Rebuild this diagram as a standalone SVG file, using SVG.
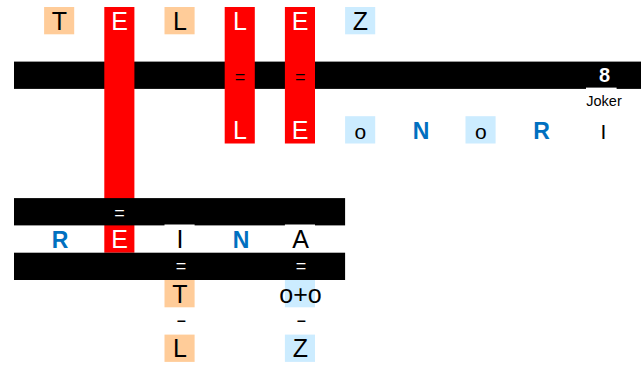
<svg xmlns="http://www.w3.org/2000/svg" width="641" height="366" viewBox="0 0 641 366">
<style>
text{font-family:"Liberation Sans",Arial,sans-serif;text-anchor:middle}
.l{font-size:25px;fill:#000}
.w{font-size:25px;fill:#fff}
.s{font-size:21px;fill:#000}
.b{font-size:23px;font-weight:bold;fill:#0070C0}
.eq{font-size:18px;fill:#000}
.eqw{font-size:18px;fill:#fff}
.dash{font-size:18px;fill:#000}
.peach{fill:#FFCC99}
.sky{fill:#CCECFF}
.red{fill:#FF0000}
.bar{fill:#000}
</style>
<rect width="641" height="366" fill="#fff"/>
<g id="bars-top">
<rect class="bar" x="14" y="61.6" width="627" height="27.3"/>
<rect fill="#fff" x="586" y="87.6" width="30.6" height="27"/>
</g>
<g id="red-columns">
<rect class="red" x="104.3" y="7" width="30.1" height="245.7"/>
<rect class="red" x="224.7" y="7" width="30.1" height="136.5"/>
<rect class="red" x="284.9" y="7" width="30.1" height="136.5"/>
</g>
<g id="bars-lower">
<rect class="bar" x="14" y="198.1" width="331.1" height="27.3"/>
<rect class="bar" x="14" y="252.7" width="331.1" height="27.3"/>
</g>
<g id="row0">
<g id="c-T0"><rect class="peach" x="44.1" y="7" width="30.1" height="27.3"/><text class="l" x="59.5" y="29.5">T</text></g>
<g id="c-E0"><text class="w" x="119.6" y="29.5">E</text></g>
<g id="c-L0"><rect class="peach" x="164.5" y="7" width="30.1" height="27.3"/><text class="l" x="180" y="29.5">L</text></g>
<g id="c-L0b"><text class="w" x="240" y="29.5">L</text></g>
<g id="c-E0b"><text class="w" x="300.2" y="29.5">E</text></g>
<g id="c-Z0"><rect class="sky" x="345.1" y="7" width="30.1" height="27.3"/><text class="l" x="360.4" y="29.5">Z</text></g>
</g>
<g id="row2">
<text class="eq" x="240" y="82.5">=</text>
<text class="eq" x="300.2" y="82.5">=</text>
<text x="604.5" y="82" style="font-size:20px;font-weight:bold;fill:#fff">8</text>
<text x="604" y="106" style="font-size:14.5px;fill:#000">Joker</text>
</g>
<g id="row4">
<text class="w" x="240" y="138.5">L</text>
<text class="w" x="300.2" y="138.5">E</text>
<g id="c-o1"><rect class="sky" x="345.1" y="116.2" width="30.1" height="27.3"/><text class="s" x="360.4" y="138.5">o</text></g>
<text class="b" x="421" y="138.5">N</text>
<g id="c-o2"><rect class="sky" x="465.5" y="116.2" width="30.1" height="27.3"/><text class="s" x="480.8" y="138.5">o</text></g>
<text class="b" x="541.5" y="138.5">R</text>
<text class="s" x="603.5" y="138.5">I</text>
</g>
<g id="row8">
<text class="eqw" x="119.6" y="218.5">=</text>
</g>
<g id="row9">
<text class="b" x="60" y="247.9">R</text>
<text class="w" x="119.6" y="247.9">E</text>
<rect fill="#fff" x="164.5" y="224.5" width="30.1" height="2"/>
<text class="l" x="180" y="247.9">I</text>
<text class="b" x="241" y="247.9">N</text>
<rect fill="#fff" x="284.9" y="224.5" width="30.1" height="2"/>
<text class="l" x="300.5" y="247.9">A</text>
</g>
<g id="row10">
<text class="eqw" x="181" y="272">=</text>
<text class="eqw" x="301" y="272">=</text>
</g>
<g id="row11">
<g id="c-T11"><rect class="peach" x="164.5" y="280" width="30.1" height="27.3"/><text class="l" x="180" y="302.5">T</text></g>
<g id="c-oo"><rect class="sky" x="284.9" y="280" width="30.1" height="27.3"/><text class="l" x="300.5" y="302.5">o+o</text></g>
</g>
<g id="row12">
<text class="dash" transform="translate(181.3 327) scale(1.8 1.1)">-</text>
<text class="dash" transform="translate(301.3 327) scale(1.8 1.1)">-</text>
</g>
<g id="row13">
<g id="c-L13"><rect class="peach" x="164.5" y="334.6" width="30.1" height="27.3"/><text class="l" x="180" y="357">L</text></g>
<g id="c-Z13"><rect class="sky" x="284.9" y="334.6" width="30.1" height="27.3"/><text class="l" x="300.5" y="357">Z</text></g>
</g>
</svg>
